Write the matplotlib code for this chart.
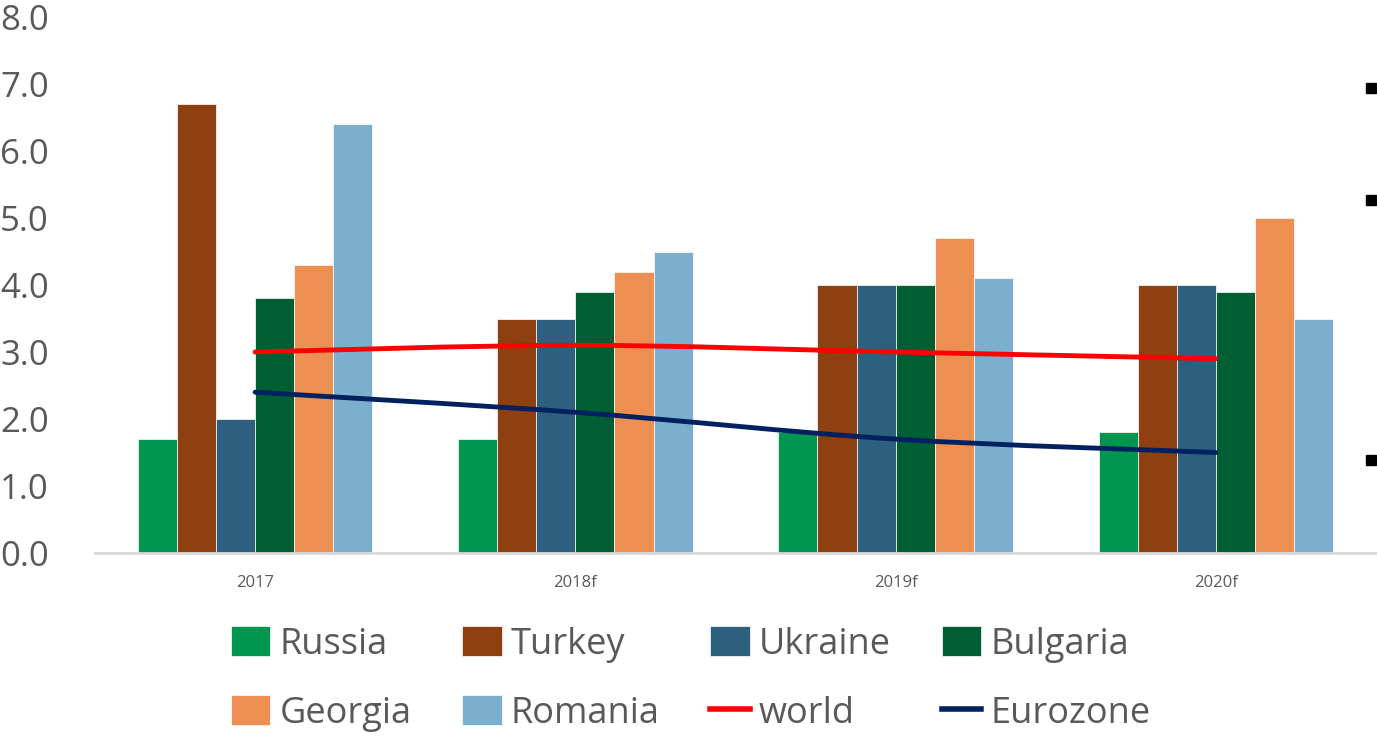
import numpy as np
import matplotlib
matplotlib.use("Agg")
import matplotlib.pyplot as plt
from matplotlib.path import Path
from matplotlib.patches import PathPatch, Rectangle
from matplotlib.lines import Line2D

# chart data
years = ["2017", "2018f", "2019f", "2020f"]
countries = ["Russia", "Turkey", "Ukraine", "Bulgaria", "Georgia", "Romania"]
russia = [1.7, 1.7, 1.8, 1.8]
turkey = [6.7, 3.5, 4.0, 4.0]
ukraine = [2.0, 3.5, 4.0, 4.0]
bulgaria = [3.8, 3.9, 4.0, 3.9]
georgia = [4.3, 4.2, 4.7, 5.0]
romania = [6.4, 4.5, 4.1, 3.5]
world = [3.0, 3.1, 3.0, 2.9]
eurozone = [2.4, 2.1, 1.7, 1.5]

bar_colors = ["#00964F", "#8F4010", "#2D5F7E", "#005E35", "#ED8E53", "#7AAFCF"]
world_color = "#FF0000"
euro_color = "#002060"
text_color = "#595959"

plt.rcParams["font.family"] = ["Open Sans", "DejaVu Sans"]

W, H = 1377, 737
fig = plt.figure(figsize=(W / 100, H / 100), dpi=100)
ax = fig.add_axes([95 / W, 1 - 553 / H, (1376 - 95) / W, (553 - 17) / H])

x = np.arange(len(years))
bw = 0.122
series = [russia, turkey, ukraine, bulgaria, georgia, romania]
bar_handles = []
for i, (name, vals) in enumerate(zip(countries, series)):
    b = ax.bar(x + (i - 2.5) * bw, vals, width=bw, color=bar_colors[i],
               edgecolor="white", linewidth=0.5, label=name, zorder=2)
    bar_handles.append(b)


def smooth_path(xs, ys):
    # Excel-style smoothed line: cubic Bezier through each point
    pts = np.column_stack([xs, ys]).astype(float)
    verts = [tuple(pts[0])]
    codes = [Path.MOVETO]
    n = len(pts)
    for k in range(n - 1):
        p0 = pts[k - 1] if k > 0 else pts[k]
        p1 = pts[k]
        p2 = pts[k + 1]
        p3 = pts[k + 2] if k + 2 < n else pts[k + 1]
        c1 = p1 + (p2 - p0) / 6
        c2 = p2 - (p3 - p1) / 6
        verts += [tuple(c1), tuple(c2), tuple(p2)]
        codes += [Path.CURVE4] * 3
    return Path(verts, codes)


for vals, col in [(world, world_color), (eurozone, euro_color)]:
    ax.add_patch(PathPatch(smooth_path(x, vals), facecolor="none",
                           edgecolor=col, linewidth=3.5, capstyle="round",
                           zorder=3))

ax.set_xlim(-0.5, len(years) - 0.5)
ax.set_ylim(0, 8)
ax.set_yticks(np.arange(0, 9, 1))
ax.set_yticklabels([f"{v:.1f}" for v in range(9)])
ax.set_xticks(x)
ax.set_xticklabels(years)
ax.tick_params(axis="y", length=0, labelsize=25, colors=text_color, pad=0)
ax.tick_params(axis="x", length=0, labelsize=12, colors=text_color, pad=16)
for lab in ax.get_yticklabels():
    lab.set_horizontalalignment("left")
    lab.set_x(-95 / (1376 - 95))
for s in ["top", "right", "left"]:
    ax.spines[s].set_visible(False)
ax.spines["bottom"].set_color("#D9D9D9")
ax.spines["bottom"].set_linewidth(2)

world_h = Line2D([], [], color=world_color, lw=4)
euro_h = Line2D([], [], color=euro_color, lw=4)
# legend fills column by column, so interleave the two rows
row1 = bar_handles[:4]
row2 = bar_handles[4:] + [world_h, euro_h]
lab1 = countries[:4]
lab2 = countries[4:] + ["world", "Eurozone"]
handles = [h for pair in zip(row1, row2) for h in pair]
labels = [l for pair in zip(lab1, lab2) for l in pair]
fig.legend(handles, labels, ncol=4, loc="center",
           bbox_to_anchor=(0.5 + 2 / W, 1 - 679 / H), frameon=False,
           fontsize=26, labelcolor=text_color, handlelength=1.1,
           handleheight=0.9, handletextpad=0.25, columnspacing=1.4,
           labelspacing=0.9)

# bullet squares at right edge of the slide
for yc in [88, 200, 460]:
    fig.add_artist(Rectangle((1366 / W, 1 - (yc + 5) / H), 10 / W, 10 / H,
                             transform=fig.transFigure, color="black"))

fig.savefig("out.png", dpi=100)
